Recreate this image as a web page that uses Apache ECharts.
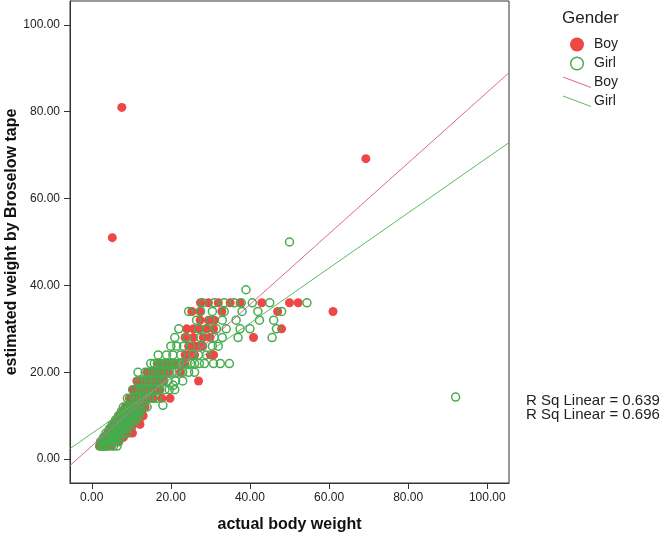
<!DOCTYPE html>
<html>
<head>
<meta charset="utf-8">
<script src="https://cdn.jsdelivr.net/npm/echarts@6/dist/echarts.min.js"></script>
<style>
html,body{margin:0;padding:0;background:#fff;}
#chart{width:662px;height:537px;}
</style>
</head>
<body>
<div id="chart"></div>
<script>
// ---- data (actual body weight, estimated weight by Broselow tape) ----
const boyPoints = [
  [2.0,3],[2.5,3],[3.2,3],[4.0,3],[5.0,3],
  [2.5,4],[3.2,4],[4.0,4],[4.8,4],[5.8,4],[6.8,4],
  [3.2,5],[4.0,5],[4.8,5],[5.6,5],[6.5,5],[8.0,5],
  [4.0,6],[4.8,6],[5.6,6],[6.4,6],[7.2,6],[8.5,6],[9.5,6],[10.3,6],
  [4.8,7],[5.6,7],[6.4,7],[7.2,7],[8.0,7],[9.0,7],[10.0,7],
  [5.5,8],[6.3,8],[7.0,8],[7.8,8],[8.6,8],[9.5,8],[10.5,8],[12.2,8],
  [6.2,9],[7.0,9],[7.8,9],[8.6,9],[9.4,9],[10.2,9],[11.0,9],[12.0,9],
  [7.0,10],[7.8,10],[8.6,10],[9.4,10],[10.2,10],[11.0,10],[11.8,10],[13.0,10],
  [7.8,11],[8.6,11],[9.4,11],[10.2,11],[11.0,11],[11.8,11],[12.6,11],
  [8.5,12],[9.3,12],[10.1,12],[10.9,12],[11.7,12],[12.5,12],[13.5,12],
  [9.5,14],[10.5,14],[11.3,14],[12.1,14],[12.9,14],[13.7,14],[14.6,14],[15.6,14],[17.7,14],[19.8,14],
  [10.3,16],[11.0,16],[11.8,16],[12.6,16],[13.4,16],[14.2,16],[15.0,16],[16.0,16],[17.0,16],
  [11.4,18],[12.2,18],[13.0,18],[13.8,18],[14.6,18],[15.4,18],[16.2,18],[17.2,18],[18.2,18],[27.0,18],
  [14.0,20],[15.2,20],[16.5,20],[17.3,20],[18.3,20],[19.5,20],[22.4,20],
  [17.0,22],[19.0,22],[21.0,22],[23.5,22],
  [23.6,24],[24.0,24],[25.3,24],[26.0,24],[30.0,24],[30.8,24],
  [24.5,26],[25.3,26],[26.4,26],[27.4,26],[28.0,26],
  [23.6,28],[25.7,28],[28.2,28],[29.9,28],[40.9,28],
  [24.0,30],[25.7,30],[27.4,30],[29.1,30],[30.8,30],[48.0,30],
  [27.4,32],[29.5,32],[31.0,32],
  [25.3,34],[27.4,34],[32.9,34],[47.0,34],[61.0,34],
  [27.5,36],[29.5,36],[32.0,36],[35.0,36],[37.5,36],[43.0,36],[50.0,36],[52.2,36],
  [7.6,81],[5.2,51],[69.3,69.2]
];
const girlPoints = [
  [2.0,3],[2.6,3],[3.0,3],[3.4,3],[4.2,3],[5.5,3],[6.4,3],
  [2.2,4],[2.8,4],[3.3,4],[3.8,4],[4.5,4],[5.2,4],[6.0,4],[6.8,4],
  [3.0,5],[3.5,5],[4.0,5],[4.6,5],[5.2,5],[5.8,5],[6.5,5],[7.2,5],
  [3.6,6],[4.2,6],[4.8,6],[5.4,6],[6.0,6],[6.6,6],[7.3,6],[8.0,6],[8.8,6],
  [4.5,7],[5.2,7],[5.8,7],[6.4,7],[7.0,7],[7.6,7],[8.3,7],[9.0,7],
  [5.2,8],[5.8,8],[6.4,8],[7.0,8],[7.6,8],[8.2,8],[8.8,8],[9.5,8],[10.3,8],
  [6.0,9],[6.7,9],[7.3,9],[8.0,9],[8.6,9],[9.2,9],[9.8,9],[10.5,9],[11.3,9],
  [6.8,10],[7.5,10],[8.2,10],[8.8,10],[9.4,10],[10.0,10],[10.6,10],[11.3,10],[12.0,10],
  [7.5,11],[8.2,11],[8.9,11],[9.5,11],[10.1,11],[10.8,11],[11.5,11],[12.3,11],
  [8.0,12],[8.8,12],[9.5,12],[10.2,12],[10.9,12],[11.6,12],[12.3,12],[13.0,12],[14.0,12],[18.0,12.4],
  [9.0,14],[9.8,14],[10.6,14],[11.4,14],[12.2,14],[13.0,14],[13.8,14],[14.6,14],[15.5,14],[16.5,14],
  [10.5,16],[11.3,16],[12.1,16],[12.9,16],[13.7,16],[14.5,16],[15.3,16],[16.2,16],[17.2,16],[18.5,16],[19.6,16],[21.0,16],
  [11.8,18],[12.6,18],[13.4,18],[14.2,18],[15.0,18],[15.8,18],[16.6,18],[17.4,18],[18.2,18],[19.2,18],[21.2,18],[23.0,18],[20.6,17],
  [11.7,20],[13.5,20],[14.5,20],[15.3,20],[16.1,20],[16.9,20],[17.7,20],[18.5,20],[19.4,20],[20.3,20],[21.5,20],[23.0,20],[24.5,20],[26.0,20],
  [14.9,22],[15.8,22],[16.6,22],[17.4,22],[18.2,22],[19.0,22],[19.8,22],[20.6,22],[21.4,22],[22.2,22],[23.0,22],[24.0,22],[25.0,22],[26.0,22],[27.2,22],[28.5,22],[30.8,22],[32.5,22],[34.8,22],
  [16.8,24],[18.9,24],[20.5,24],[22.5,24],[25.6,24],[27.0,24],[29.0,24],
  [20.0,26],[21.5,26],[23.2,26],[25.0,26],[28.0,26],[30.5,26],[32.0,26],
  [21.0,28],[24.0,28],[27.5,28],[31.0,28],[33.0,28],[37.0,28],[45.6,28],
  [22.0,30],[27.0,30],[29.0,30],[31.5,30],[34.0,30],[37.5,30],[40.0,30],[46.7,30],
  [26.5,32],[30.0,32],[33.0,32],[36.5,32],[42.4,32],[46.0,32],
  [24.5,34],[27.5,34],[30.5,34],[33.5,34],[38.0,34],[42.0,34],[48.0,34],
  [28.0,36],[31.0,36],[33.5,36],[36.0,36],[37.8,36],[40.6,36],[45.0,36],[54.4,36],
  [39.0,39],[50.0,50],[92.0,14.3]
];
// linear fits: [intercept, slope]
const boyFit = [3.0, 0.815];
const girlFit = [5.9, 0.635];
const rSqLabels = ['R Sq Linear = 0.639', 'R Sq Linear = 0.696'];
const groupNames = ['Boy', 'Girl'];
const xTicks = [0, 20, 40, 60, 80, 100];
const yTicks = [0, 20, 40, 60, 80, 100];
const axisMin = -5.5, axisMax = 105.5;

const BOY = '#EF4646', GIRL = '#45AD4E', BOYLINE = '#D8689F', GIRLLINE = '#5CBB62';
const FONT = '"Liberation Sans", Arial, sans-serif';

function fitLine(f) {
  return [[axisMin, f[0] + f[1] * axisMin], [axisMax, f[0] + f[1] * axisMax]];
}

const chart = echarts.init(document.getElementById('chart'), null, {renderer: 'canvas'});
const axisCommon = {
  type: 'value', min: axisMin, max: axisMax,
  axisLine: {show: true, onZero: false, lineStyle: {color: '#333', width: 1}},
  axisTick: {show: true, inside: false, length: 6, lineStyle: {color: '#333', width: 1}},
  splitLine: {show: false},
  axisLabel: {color: '#222', fontSize: 12, fontFamily: FONT, formatter: v => v.toFixed(2)},
  nameLocation: 'middle',
  nameMoveOverlap: false,
  nameTextStyle: {color: '#111', fontSize: 16, fontWeight: 'bold', fontFamily: FONT}
};
chart.setOption({
  animation: false,
  backgroundColor: '#fff',
  grid: {left: 70, top: 1, right: 153, bottom: 54, containLabel: false, outerBoundsMode: 'none',
         show: true, borderColor: '#333', borderWidth: 1, backgroundColor: 'transparent'},
  xAxis: Object.assign({}, axisCommon, {
    name: 'actual body weight', nameGap: 34,
    axisTick: Object.assign({}, axisCommon.axisTick, {customValues: xTicks}),
    axisLabel: Object.assign({}, axisCommon.axisLabel, {customValues: xTicks, margin: 9})
  }),
  yAxis: Object.assign({}, axisCommon, {
    name: 'estimated weight by Broselow tape', nameGap: 50,
    axisTick: Object.assign({}, axisCommon.axisTick, {customValues: yTicks}),
    axisLabel: Object.assign({}, axisCommon.axisLabel, {customValues: yTicks, margin: 10})
  }),
  series: [
    {name: groupNames[0], type: 'scatter', data: boyPoints, symbol: 'circle', symbolSize: 9,
     itemStyle: {color: BOY, opacity: 1}, z: 2},
    {name: groupNames[1], type: 'scatter', data: girlPoints, symbol: 'circle', symbolSize: 8,
     itemStyle: {color: 'rgba(255,255,255,0)', borderColor: GIRL, borderWidth: 1.5, opacity: 1}, z: 3},
    {name: groupNames[0] + ' fit', type: 'line', data: fitLine(boyFit), showSymbol: false, symbol: 'none',
     lineStyle: {color: BOYLINE, width: 1}, silent: true, z: 4},
    {name: groupNames[1] + ' fit', type: 'line', data: fitLine(girlFit), showSymbol: false, symbol: 'none',
     lineStyle: {color: GIRLLINE, width: 1}, silent: true, z: 4}
  ],
  graphic: [
    {type: 'text', left: 562, top: 10, style: {text: 'Gender', fontSize: 17, fontFamily: FONT, fill: '#222'}},
    {type: 'circle', shape: {cx: 577, cy: 44.5, r: 7}, style: {fill: BOY}},
    {type: 'text', left: 594, top: 37, style: {text: groupNames[0], fontSize: 14, fontFamily: FONT, fill: '#222'}},
    {type: 'circle', shape: {cx: 577, cy: 63.5, r: 6.3}, style: {fill: 'none', stroke: GIRL, lineWidth: 1.5}},
    {type: 'text', left: 594, top: 56, style: {text: groupNames[1], fontSize: 14, fontFamily: FONT, fill: '#222'}},
    {type: 'line', shape: {x1: 563, y1: 77, x2: 591, y2: 87.5}, style: {stroke: BOYLINE, lineWidth: 1}},
    {type: 'text', left: 594, top: 75, style: {text: groupNames[0], fontSize: 14, fontFamily: FONT, fill: '#222'}},
    {type: 'line', shape: {x1: 563, y1: 96, x2: 591, y2: 106.5}, style: {stroke: GIRLLINE, lineWidth: 1}},
    {type: 'text', left: 594, top: 94, style: {text: groupNames[1], fontSize: 14, fontFamily: FONT, fill: '#222'}},
    {type: 'text', left: 526, top: 393, style: {text: rSqLabels[0], fontSize: 15, fontFamily: FONT, fill: '#222'}},
    {type: 'text', left: 526, top: 407, style: {text: rSqLabels[1], fontSize: 15, fontFamily: FONT, fill: '#222'}}
  ]
});
</script>
</body>
</html>
